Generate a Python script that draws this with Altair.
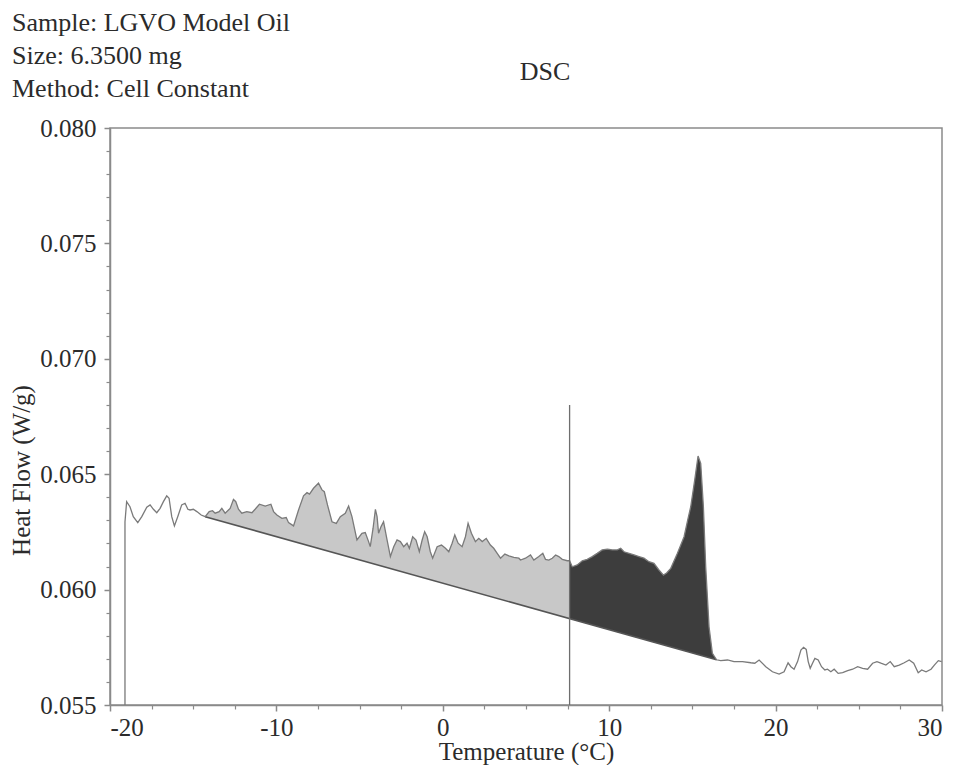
import altair as alt
import numpy as np
import pandas as pd

# ---------------- data ----------------
HEADER_LINES = ["Sample: LGVO Model Oil", "Size: 6.3500 mg", "Method: Cell Constant"]
CHART_TITLE = "DSC"
X_TITLE = "Temperature (°C)"
Y_TITLE = "Heat Flow (W/g)"

X_TICKS = [-20, -10, 0, 10, 20, 30]
X_MINOR = [-17.5, -15, -12.5, -7.5, -5, -2.5, 2.5, 5, 7.5, 12.5, 15, 17.5, 22.5, 25, 27.5]
Y_TICKS = [0.055, 0.060, 0.065, 0.070, 0.075, 0.080]
Y_MINOR = [0.056, 0.057, 0.058, 0.059, 0.061, 0.062, 0.063, 0.064,
           0.066, 0.067, 0.068, 0.069, 0.071, 0.072, 0.073, 0.074,
           0.076, 0.077, 0.078, 0.079]

# curve before the integration start
TEMP_PRE = [-19.10, -19.10, -19.00, -18.80, -18.60, -18.33, -18.09, -17.79, -17.59, -17.39,
            -17.19, -16.99, -16.79, -16.59, -16.45, -16.29, -16.13, -15.93, -15.69, -15.49,
            -15.32, -15.19, -14.99, -14.78, -14.52]
FLOW_PRE = [0.05500, 0.06293, 0.06381, 0.06359, 0.06316, 0.06290, 0.06316, 0.06357, 0.06367, 0.06348,
            0.06333, 0.06352, 0.06381, 0.06406, 0.06396, 0.06316, 0.06276, 0.06316, 0.06367, 0.06374,
            0.06348, 0.06345, 0.06348, 0.06338, 0.06323]

# first (light) integrated region
TEMP_LIGHT = [-14.28, -14.04, -13.84, -13.68, -13.44, -13.28, -13.08, -12.78, -12.58, -12.44,
              -12.28, -12.08, -11.78, -11.47, -11.28, -11.02, -10.67, -10.33, -10.17, -9.97,
              -9.67, -9.41, -9.27, -8.97, -8.67, -8.37, -8.16, -8.01, -7.77, -7.47,
              -7.26, -7.12, -6.93, -6.66, -6.40, -6.16, -5.86, -5.66, -5.46, -5.16,
              -4.86, -4.66, -4.46, -4.36, -4.19, -4.05, -3.95, -3.86, -3.71, -3.56,
              -3.35, -3.15, -2.95, -2.75, -2.55, -2.35, -2.15, -2.01, -1.81, -1.61,
              -1.41, -1.24, -1.09, -0.94, -0.75, -0.61, -0.34, -0.08, 0.16, 0.36,
              0.56, 0.72, 0.92, 1.16, 1.36, 1.52, 1.72, 1.96, 2.16, 2.37,
              2.61, 2.86, 3.06, 3.27, 3.47, 3.73, 3.97, 4.27, 4.57, 4.67,
              4.97, 5.27, 5.47, 5.77, 6.01, 6.17, 6.37, 6.58, 6.78, 6.97,
              7.18, 7.48, 7.62]
FLOW_LIGHT = [0.06316, 0.06338, 0.06342, 0.06331, 0.06338, 0.06352, 0.06331, 0.06352, 0.06391, 0.06381,
              0.06348, 0.06331, 0.06338, 0.06333, 0.06348, 0.06370, 0.06362, 0.06370, 0.06338, 0.06323,
              0.06309, 0.06312, 0.06290, 0.06276, 0.06345, 0.06406, 0.06420, 0.06414, 0.06439, 0.06461,
              0.06432, 0.06424, 0.06367, 0.06294, 0.06287, 0.06316, 0.06331, 0.06362, 0.06316, 0.06215,
              0.06244, 0.06247, 0.06208, 0.06186, 0.06266, 0.06348, 0.06316, 0.06244, 0.06273, 0.06294,
              0.06215, 0.06143, 0.06186, 0.06215, 0.06208, 0.06186, 0.06201, 0.06179, 0.06229, 0.06215,
              0.06164, 0.06215, 0.06251, 0.06229, 0.06164, 0.06136, 0.06186, 0.06193, 0.06179, 0.06164,
              0.06201, 0.06237, 0.06201, 0.06186, 0.06229, 0.06287, 0.06244, 0.06208, 0.06222, 0.06208,
              0.06222, 0.06193, 0.06179, 0.06157, 0.06136, 0.06154, 0.06146, 0.06140, 0.06136, 0.06128,
              0.06136, 0.06150, 0.06128, 0.06143, 0.06157, 0.06131, 0.06128, 0.06136, 0.06150, 0.06143,
              0.06131, 0.06125, 0.06125]

# second (dark) integrated region
TEMP_DARK = [7.62, 7.78, 8.08, 8.38, 8.68, 8.98, 9.28, 9.58, 9.89, 10.19,
             10.49, 10.69, 10.89, 11.19, 11.49, 11.79, 12.09, 12.39, 12.69, 12.99,
             13.26, 13.45, 13.70, 14.10, 14.50, 14.72, 14.90, 15.14, 15.34, 15.50,
             15.66, 15.80, 16.00, 16.20, 16.45]
FLOW_DARK = [0.06125, 0.06099, 0.06107, 0.06125, 0.06131, 0.06143, 0.06157, 0.06172, 0.06175, 0.06172,
             0.06172, 0.06179, 0.06164, 0.06157, 0.06150, 0.06143, 0.06136, 0.06121, 0.06114, 0.06085,
             0.06063, 0.06072, 0.06092, 0.06157, 0.06229, 0.06302, 0.06359, 0.06475, 0.06579, 0.06547,
             0.06359, 0.06099, 0.05839, 0.05724, 0.05696]

# curve after the integration end
TEMP_POST = [16.70, 17.11, 17.50, 18.01, 18.51, 18.75, 19.01, 19.41, 19.81, 20.21,
             20.51, 20.75, 20.92, 21.11, 21.32, 21.52, 21.68, 21.84, 21.96, 22.08,
             22.22, 22.36, 22.56, 22.76, 22.96, 23.12, 23.32, 23.52, 23.76, 24.03,
             24.33, 24.63, 24.93, 25.23, 25.53, 25.83, 26.09, 26.33, 26.63, 26.89,
             27.13, 27.43, 27.73, 28.03, 28.30, 28.57, 28.78, 29.04, 29.34, 29.54,
             29.78, 29.98]
FLOW_POST = [0.05692, 0.05695, 0.05688, 0.05688, 0.05683, 0.05681, 0.05695, 0.05666, 0.05644, 0.05634,
             0.05644, 0.05683, 0.05666, 0.05655, 0.05688, 0.05738, 0.05750, 0.05741, 0.05688, 0.05659,
             0.05681, 0.05702, 0.05695, 0.05666, 0.05652, 0.05655, 0.05644, 0.05655, 0.05637, 0.05640,
             0.05649, 0.05655, 0.05666, 0.05659, 0.05655, 0.05681, 0.05688, 0.05681, 0.05673, 0.05688,
             0.05666, 0.05673, 0.05683, 0.05695, 0.05681, 0.05640, 0.05652, 0.05644, 0.05655, 0.05673,
             0.05692, 0.05688]

BASE_T = [-14.28, 16.45]       # integration baseline end points
BASE_FLOW = [0.06316, 0.05696]
SPLIT_T = [7.62]               # vertical split between the two peaks
SPLIT_FLOW = [0.0550, 0.0680]

# ---------------- tables ----------------
temp = TEMP_PRE + TEMP_LIGHT + TEMP_DARK[1:] + TEMP_POST
flow = FLOW_PRE + FLOW_LIGHT + FLOW_DARK[1:] + FLOW_POST
curve = pd.DataFrame({"T": temp, "HF": flow, "i": range(len(temp))})

light = pd.DataFrame({"T": TEMP_LIGHT, "HF": FLOW_LIGHT})
light["base"] = np.interp(light["T"], BASE_T, BASE_FLOW)
dark = pd.DataFrame({"T": TEMP_DARK, "HF": FLOW_DARK})
dark["base"] = np.interp(dark["T"], BASE_T, BASE_FLOW)
base = pd.DataFrame({"T": [BASE_T[0]], "T2": [BASE_T[1]], "HF": [BASE_FLOW[0]], "HF2": [BASE_FLOW[1]]})
split = pd.DataFrame({"T": SPLIT_T, "HF": [SPLIT_FLOW[0]], "HF2": [SPLIT_FLOW[1]]})

FONT = "Liberation Serif"
TXT = "#2b2b2b"
AX = "#8a8a8a"
W, H = 832, 577
FS = 25

xs = alt.Scale(domain=[-20, 30], nice=False, zero=False)
ys = alt.Scale(domain=[0.055, 0.080], nice=False, zero=False)

x_major = alt.Axis(values=X_TICKS, labelExpr="'' + datum.value", grid=False, orient="bottom",
                   tickSize=6, tickWidth=1.5, tickColor=AX, domainColor=AX, domainWidth=1.5,
                   labelFont=FONT, labelFontSize=FS, labelColor=TXT, labelPadding=4,
                   title=X_TITLE, titleFont=FONT, titleFontSize=FS, titleFontWeight="normal",
                   titleColor=TXT, titleY=46, titleBaseline="middle")
y_major = alt.Axis(values=Y_TICKS, format=".3f", grid=False, orient="left",
                   tickSize=6, tickWidth=1.5, tickColor=AX, domainColor=AX, domainWidth=1.5,
                   labelFont=FONT, labelFontSize=FS, labelColor=TXT, labelPadding=8,
                   title=Y_TITLE, titleFont=FONT, titleFontSize=FS, titleFontWeight="normal",
                   titleColor=TXT, titleX=-89, titleY=342, titleBaseline="middle", titleAngle=270)
x_minor = alt.Axis(values=X_MINOR, labels=False, grid=False, orient="bottom", title=None,
                   tickSize=4, tickWidth=1.2, tickColor=AX, domain=False)
y_minor = alt.Axis(values=Y_MINOR, labels=False, grid=False, orient="left", title=None,
                   tickSize=4, tickWidth=1.2, tickColor=AX, domain=False)

light_area = alt.Chart(light).mark_area(color="#c8c8c8", opacity=1).encode(
    x=alt.X("T:Q", scale=xs, axis=None), y=alt.Y("HF:Q", scale=ys, axis=None), y2="base:Q")
dark_area = alt.Chart(dark).mark_area(color="#3d3d3d", opacity=1).encode(
    x=alt.X("T:Q", scale=xs, axis=None), y=alt.Y("HF:Q", scale=ys, axis=None), y2="base:Q")
base_line = alt.Chart(base).mark_rule(color="#555555", strokeWidth=1.6).encode(
    x=alt.X("T:Q", scale=xs, axis=None), x2="T2:Q",
    y=alt.Y("HF:Q", scale=ys, axis=None), y2="HF2:Q")
curve_line = alt.Chart(curve).mark_line(color="#7a7a7a", strokeWidth=1.3).encode(
    x=alt.X("T:Q", scale=xs, axis=x_major), y=alt.Y("HF:Q", scale=ys, axis=y_major),
    order="i:Q")
split_line = alt.Chart(split).mark_rule(color="#6e6e6e", strokeWidth=1.3).encode(
    x=alt.X("T:Q", scale=xs, axis=x_minor), y=alt.Y("HF:Q", scale=ys, axis=y_minor), y2="HF2:Q")

layers = [light_area, dark_area, base_line, curve_line, split_line]

header_y = [-97, -64, -31]
for line, yy in zip(HEADER_LINES, header_y):
    layers.append(
        alt.Chart(pd.DataFrame({"t": [line]})).mark_text(
            font=FONT, fontSize=26, color=TXT, align="left", baseline="alphabetic"
        ).encode(text="t:N", x=alt.value(-98), y=alt.value(yy))
    )
layers.append(
    alt.Chart(pd.DataFrame({"t": [CHART_TITLE]})).mark_text(
        font=FONT, fontSize=26, color=TXT, align="center", baseline="alphabetic"
    ).encode(text="t:N", x=alt.value(435), y=alt.value(-48))
)

chart = alt.layer(*layers).resolve_axis(x="independent", y="independent").properties(
    width=W, height=H,
    autosize=alt.AutoSizeParams(type="none"),
    padding={"left": 102, "top": 120, "right": 12, "bottom": 60},
    background="white",
).configure_view(stroke=AX, strokeWidth=1.5)

chart.save("out.html", embed_options={"renderer": "svg", "actions": False})
